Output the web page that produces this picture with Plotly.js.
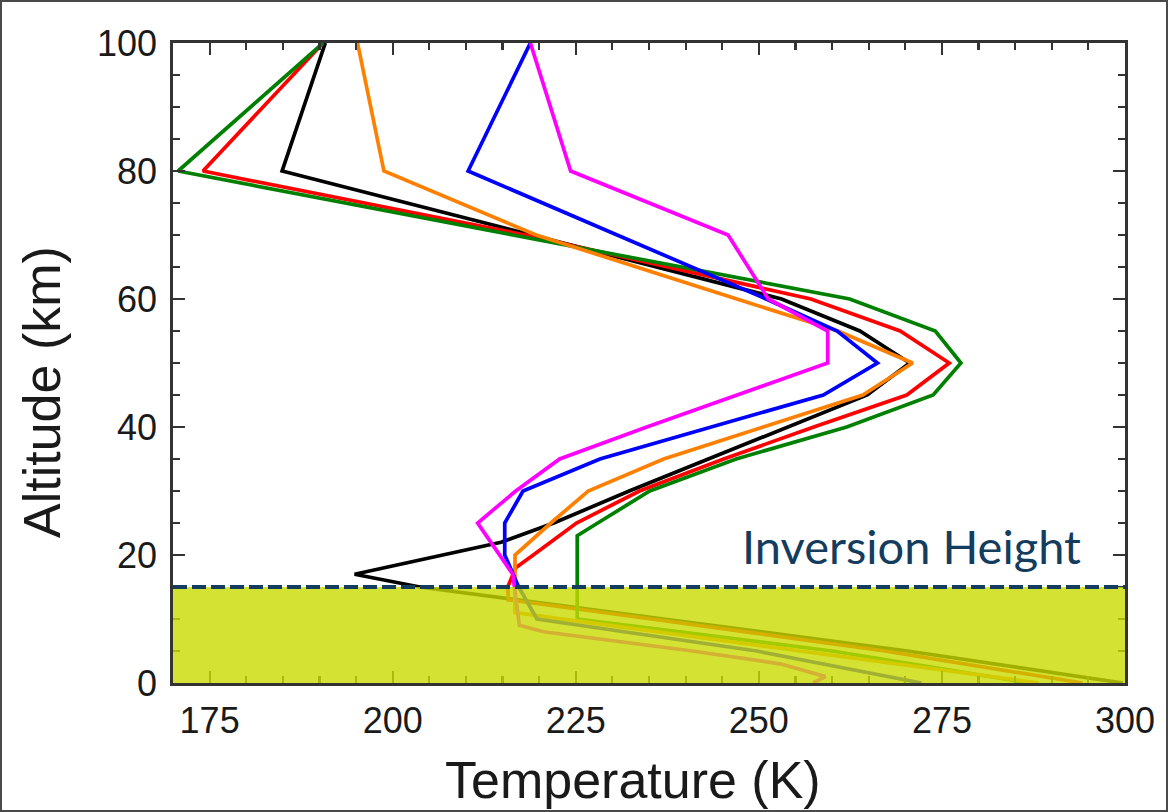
<!DOCTYPE html>
<html>
<head>
<meta charset="utf-8">
<script src="https://cdn.plot.ly/plotly-3.0.1.min.js"></script>
<style>
  html, body { margin: 0; padding: 0; background: #ffffff; }
  #chart { width: 1168px; height: 812px; }
</style>
</head>
<body>
<div id="chart"></div>
<script>
// ---- Data (temperature in K versus altitude in km) ----
const altBlack   = [0, 5, 10, 15, 17, 20, 22, 25, 30, 35, 40, 45, 50, 55, 60, 70, 80, 100];
const tempBlack  = [299.7, 270.3, 237.0, 203.7, 194.8, 206.7, 214.8, 222.0, 232.3, 243.1, 254.0, 264.8, 270.6, 263.8, 253.1, 218.9, 184.9, 190.8];

const altRed     = [0, 5, 10, 13, 15, 18, 20, 25, 30, 35, 40, 45, 50, 55, 60, 70, 80, 100];
const tempRed    = [294.2, 267.2, 235.3, 215.8, 215.7, 216.8, 219.2, 225.1, 233.7, 245.2, 257.5, 270.2, 276.0, 269.3, 257.1, 218.1, 174.1, 190.5];

const altGreen   = [0, 5, 10, 23, 25, 30, 35, 40, 45, 50, 55, 60, 70, 80, 100];
const tempGreen  = [287.0, 260.0, 225.2, 225.2, 228.0, 235.1, 246.9, 262.0, 273.8, 277.6, 274.1, 262.4, 216.4, 170.7, 190.5];

const altOrange  = [0, 5, 10, 11, 20, 25, 30, 35, 40, 45, 50, 55, 60, 70, 80, 100];
const tempOrange = [288.2, 255.7, 223.3, 216.7, 216.7, 221.6, 226.7, 237.0, 250.6, 264.2, 271.0, 260.8, 247.0, 219.6, 198.8, 195.2];

const altBlue    = [0, 5, 10, 15, 20, 25, 30, 35, 40, 45, 50, 55, 60, 70, 80, 100];
const tempBlue   = [272.2, 249.7, 219.7, 217.2, 215.3, 215.3, 217.8, 228.3, 243.5, 258.8, 266.2, 260.7, 251.0, 230.7, 210.3, 218.8];

const altMagenta  = [0, 1, 3, 5, 8, 9, 17, 25, 30, 35, 40, 45, 50, 55, 60, 70, 80, 100];
const tempMagenta = [257.4, 259.1, 252.9, 240.9, 220.6, 217.3, 216.4, 211.6, 216.8, 222.8, 234.7, 247.0, 259.4, 259.4, 251.3, 245.8, 224.3, 218.8];

const inversionHeight = 15;
const xRange = [170, 300];
const yRange = [0, 100];
const xTitle = 'Temperature (K)';
const yTitle = 'Altitude (km)';
const inversionLabel = 'Inversion Height';

// ---- Traces ----
function profile(t, z, color) {
  return { x: t, y: z, type: 'scatter', mode: 'lines',
           line: { color: color, width: 3.7 }, hoverinfo: 'skip', showlegend: false };
}
const traces = [
  profile(tempBlack, altBlack, '#000000'),
  profile(tempRed, altRed, '#ff0000'),
  profile(tempGreen, altGreen, '#008000'),
  profile(tempOrange, altOrange, '#ff8000'),
  profile(tempBlue, altBlue, '#0000ff'),
  profile(tempMagenta, altMagenta, '#ff00ff')
];

// ---- Layout ----
const L = 173, R = 43, T = 43, B = 129, W = 1168, H = 812;
const pw = W - L - R, ph = H - T - B;
const px2x = p => (p - L) / pw;
const px2y = p => (H - B - p) / ph;

const axisCommon = {
  showgrid: false, zeroline: false,
  showline: true, linecolor: '#333333', linewidth: 2.8, mirror: 'allticks',
  ticks: 'inside', ticklen: 12, tickwidth: 2.2, tickcolor: '#333333',
  tickfont: { family: 'Liberation Sans, Arial, sans-serif', size: 36, color: '#1a1a1a' }
};

const layout = {
  width: W, height: H,
  margin: { l: L, r: R, t: T, b: B, pad: 0 },
  paper_bgcolor: '#ffffff', plot_bgcolor: '#ffffff',
  showlegend: false,
  xaxis: Object.assign({}, axisCommon, {
    range: xRange, tick0: 175, dtick: 25, ticklabelstandoff: 4,
    minor: { tick0: 170, dtick: 5, ticks: 'inside', ticklen: 7, tickwidth: 2.2, tickcolor: '#333333', showgrid: false }
  }),
  yaxis: Object.assign({}, axisCommon, {
    range: yRange, tick0: 0, dtick: 20, ticklabelstandoff: 6,
    minor: { tick0: 0, dtick: 5, ticks: 'inside', ticklen: 7, tickwidth: 2.2, tickcolor: '#333333', showgrid: false }
  }),
  shapes: [
    { type: 'rect', xref: 'x', yref: 'y', x0: xRange[0], x1: xRange[1], y0: 0, y1: inversionHeight,
      fillcolor: 'rgba(201,220,0,0.8)', line: { width: 0 }, layer: 'above' },
    { type: 'line', xref: 'x', yref: 'y', x0: xRange[0], x1: xRange[1], y0: inversionHeight, y1: inversionHeight,
      line: { color: '#143c5e', width: 4, dash: '14px,5px' }, layer: 'above' },
    { type: 'rect', xref: 'paper', yref: 'paper',
      x0: px2x(1), x1: px2x(W - 1), y0: px2y(H - 1), y1: px2y(1),
      line: { color: '#4a4a4a', width: 2 }, fillcolor: 'rgba(0,0,0,0)', layer: 'above' }
  ],
  annotations: [
    { text: xTitle, xref: 'paper', yref: 'paper', x: px2x(633), y: px2y(780),
      xanchor: 'center', yanchor: 'middle', showarrow: false,
      font: { family: 'Liberation Sans, Arial, sans-serif', size: 52, color: '#1a1a1a' } },
    { text: yTitle, xref: 'paper', yref: 'paper', x: px2x(42), y: px2y(392),
      xanchor: 'center', yanchor: 'middle', textangle: -90, showarrow: false,
      font: { family: 'Liberation Sans, Arial, sans-serif', size: 52, color: '#1a1a1a' } },
    { text: inversionLabel, xref: 'x', yref: 'y', x: 294.2, y: 21.4,
      xanchor: 'right', yanchor: 'middle', showarrow: false,
      font: { family: 'Lato, Open Sans, sans-serif', size: 47, color: '#143c5e' } }
  ]
};

Plotly.newPlot('chart', traces, layout, { displayModeBar: false, staticPlot: true });
</script>
</body>
</html>
